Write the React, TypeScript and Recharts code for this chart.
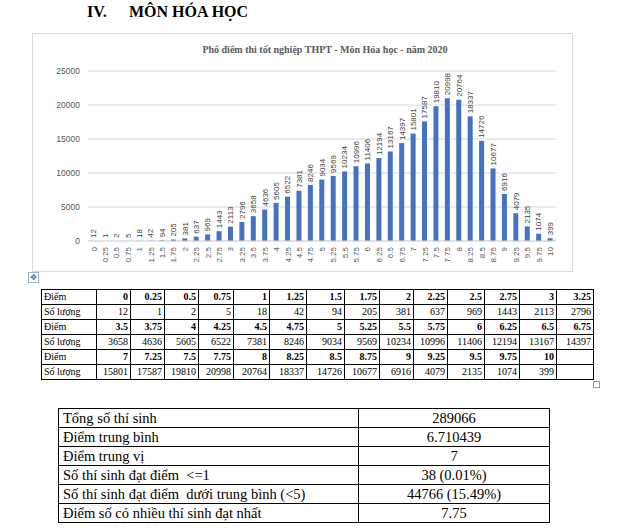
import { BarChart, Bar, XAxis, YAxis, CartesianGrid, LabelList } from 'recharts';

// điểm (categories) và số lượng thí sinh
const scores = [
  '0', '0.25', '0.5', '0.75', '1', '1.25', '1.5', '1.75', '2', '2.25', '2.5', '2.75', '3', '3.25',
  '3.5', '3.75', '4', '4.25', '4.5', '4.75', '5', '5.25', '5.5', '5.75', '6', '6.25', '6.5', '6.75',
  '7', '7.25', '7.5', '7.75', '8', '8.25', '8.5', '8.75', '9', '9.25', '9.5', '9.75', '10',
];
const counts = [
  12, 1, 2, 5, 18, 42, 94, 205, 381, 637, 969, 1443, 2113, 2796,
  3658, 4636, 5605, 6522, 7381, 8246, 9034, 9569, 10234, 10996, 11406, 12194, 13167, 14397,
  15801, 17587, 19810, 20998, 20764, 18337, 14726, 10677, 6916, 4079, 2135, 1074, 399,
];
const yTicks = [0, 5000, 10000, 15000, 20000, 25000];

const summaryLabels = [
  'Tổng số thí sinh',
  'Điểm trung bình',
  'Điểm trung vị',
  'Số thí sinh đạt điểm  <=1',
  'Số thí sinh đạt điểm  dưới trung bình (<5)',
  'Điểm số có nhiều thí sinh đạt nhất',
];
const summaryValues = ['289066', '6.710439', '7', '38 (0.01%)', '44766 (15.49%)', '7.75'];

const data = scores.map((s, i) => ({ score: s, count: counts[i] }));

const serif = '"Liberation Serif", "Times New Roman", serif';
const sans = '"Liberation Sans", Arial, sans-serif';

const colWidths = [55, 34, 34, 34, 35, 36, 37, 38, 35, 34, 34, 37, 35, 37, 37];
const perRow = 14;

const ScoreTick = ({ x, y, payload }: any) => (
  <g transform={`translate(${x},${y})`}>
    <text transform="rotate(-90)" textAnchor="end" dy="0.35em" fontSize={8} fontFamily={sans} fill="#595959">
      {payload.value}
    </text>
  </g>
);

const ValueLabel = ({ x, y, width, value }: any) => (
  <text
    transform={`translate(${x + width / 2},${y - 3}) rotate(-90)`}
    textAnchor="start"
    dy="0.35em"
    fontSize={8}
    fontFamily={sans}
    fill="#404040"
  >
    {value}
  </text>
);

const cell: React.CSSProperties = {
  border: '1px solid #000',
  padding: '0 2px',
  height: 14,
  lineHeight: '14px',
  whiteSpace: 'nowrap',
  fontFamily: serif,
  fontSize: 10,
  color: '#000',
};

export default function App() {
  const groups: number[][] = [];
  for (let i = 0; i < scores.length; i += perRow) {
    groups.push(scores.slice(i, i + perRow).map((_, k) => i + k));
  }

  return (
    <div style={{ position: 'absolute', left: 0, top: 0, width: 618, height: 531, background: '#fff' }}>
      <div style={{ position: 'absolute', left: 87, top: 3, fontFamily: serif, fontWeight: 'bold', fontSize: 16 }}>
        <span style={{ display: 'inline-block', width: 42 }}>IV.</span>
        <span>MÔN HÓA HỌC</span>
      </div>

      <div style={{ position: 'absolute', left: 32, top: 33, width: 539, height: 237, border: '1px solid #d9d9d9' }}>
        <div
          style={{
            position: 'absolute',
            left: 0,
            width: 584,
            top: 10,
            textAlign: 'center',
            fontFamily: serif,
            fontWeight: 'bold',
            fontSize: 10,
            color: '#595959',
          }}
        >
          Phổ điểm thi tốt nghiệp THPT - Môn Hóa học - năm 2020
        </div>
        <BarChart width={539} height={237} data={data} margin={{ top: 37, right: 16, left: 0, bottom: 0 }}>
          <CartesianGrid vertical={false} stroke="#d9d9d9" />
          <XAxis
            dataKey="score"
            interval={0}
            tickLine={false}
            tickSize={4}
            tickMargin={2}
            axisLine={{ stroke: '#d9d9d9' }}
            height={30}
            tick={<ScoreTick />}
          />
          <YAxis
            domain={[0, 25000]}
            ticks={yTicks}
            width={55}
            axisLine={false}
            tickLine={false}
            tick={{ fontSize: 8.5, fill: '#595959', fontFamily: sans }}
          />
          <Bar dataKey="count" fill="#4472C4" barSize={5} isAnimationActive={false}>
            <LabelList dataKey="count" content={<ValueLabel />} />
          </Bar>
        </BarChart>
      </div>

      <div
        style={{
          position: 'absolute',
          left: 28,
          top: 272,
          width: 9,
          height: 9,
          border: '1px solid #9fb1d0',
          fontSize: 8,
          lineHeight: '9px',
          textAlign: 'center',
          color: '#3a62a8',
          fontFamily: '"DejaVu Sans", sans-serif',
        }}
      >
        ✥
      </div>

      <table
        style={{
          position: 'absolute',
          left: 41,
          top: 289,
          borderCollapse: 'collapse',
          fontFamily: serif,
          fontSize: 10,
          tableLayout: 'fixed',
          width: 553,
        }}
      >
        <colgroup>
          {colWidths.map((w, i) => (
            <col key={i} style={{ width: w }} />
          ))}
        </colgroup>
        <tbody>
          {groups.map((g, gi) => [
            <tr key={`s${gi}`}>
              <td style={{ ...cell, textAlign: 'left' }}>Điểm</td>
              {Array.from({ length: perRow }).map((_, k) => (
                <td key={k} style={{ ...cell, textAlign: 'right', fontWeight: 'bold' }}>
                  {g[k] !== undefined ? scores[g[k]] : ''}
                </td>
              ))}
            </tr>,
            <tr key={`c${gi}`}>
              <td style={{ ...cell, textAlign: 'left' }}>Số lượng</td>
              {Array.from({ length: perRow }).map((_, k) => (
                <td key={k} style={{ ...cell, textAlign: 'right' }}>
                  {g[k] !== undefined ? counts[g[k]] : ''}
                </td>
              ))}
            </tr>,
          ])}
        </tbody>
      </table>

      <div
        style={{
          position: 'absolute',
          left: 593,
          top: 381,
          width: 5,
          height: 5,
          border: '1px solid #999',
        }}
      />

      <table
        style={{
          position: 'absolute',
          left: 58,
          top: 408,
          borderCollapse: 'collapse',
          fontFamily: serif,
          fontSize: 14.5,
          tableLayout: 'fixed',
          width: 491,
        }}
      >
        <colgroup>
          <col style={{ width: 300 }} />
          <col style={{ width: 191 }} />
        </colgroup>
        <tbody>
          {summaryLabels.map((l, i) => (
            <tr key={i}>
              <td style={{ ...cell, fontSize: 14.5, height: 18, lineHeight: '18px', padding: '0 4px', whiteSpace: 'pre' }}>
                {l}
              </td>
              <td style={{ ...cell, fontSize: 14.5, height: 18, lineHeight: '18px', textAlign: 'center' }}>
                {summaryValues[i]}
              </td>
            </tr>
          ))}
        </tbody>
      </table>
    </div>
  );
}
